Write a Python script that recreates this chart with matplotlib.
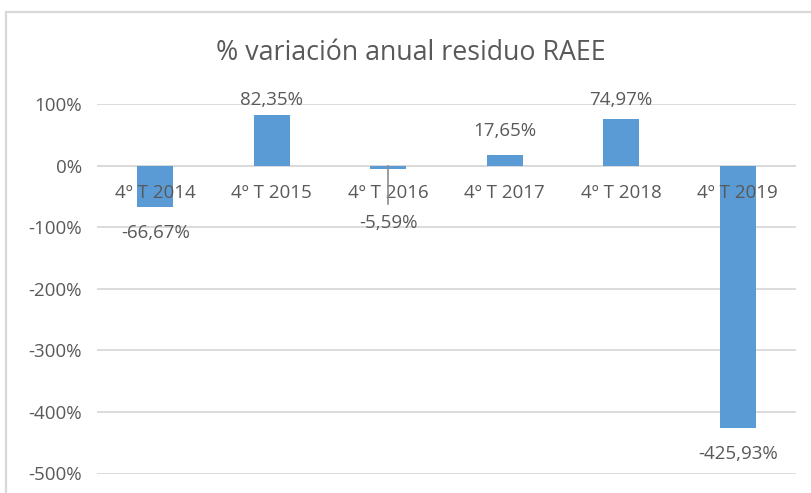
import matplotlib.pyplot as plt
from matplotlib.patches import Rectangle
from matplotlib.ticker import FuncFormatter

categories = ["4º T 2014", "4º T 2015", "4º T 2016", "4º T 2017", "4º T 2018", "4º T 2019"]
values = [-66.67, 82.35, -5.59, 17.65, 74.97, -425.93]
labels = ["-66,67%", "82,35%", "-5,59%", "17,65%", "74,97%", "-425,93%"]

plt.rcParams['font.family'] = ['Open Sans', 'DejaVu Sans']
text_col = '#595959'
grid_col = '#D9D9D9'
fs = 13.5

fig = plt.figure(figsize=(8.12, 4.93), dpi=100)
ax = fig.add_axes([97 / 812, 19.5 / 493, 699 / 812, 369.5 / 493])

x = list(range(len(categories)))
ax.bar(x, values, width=0.31, color='#5B9BD5', zorder=3)

ax.set_xlim(-0.5, len(categories) - 0.5)
ax.set_ylim(-500, 100)
ax.set_yticks(range(-500, 101, 100))
ax.yaxis.set_major_formatter(FuncFormatter(lambda v, p: f"{int(v)}%"))
ax.tick_params(axis='y', length=0, pad=11, labelsize=fs, labelcolor=text_col)
ax.set_xticks([])
ax.grid(axis='y', color=grid_col, linewidth=1.3, zorder=0)
for s in ax.spines.values():
    s.set_visible(False)
ax.axhline(0, color=grid_col, linewidth=1.3, zorder=2)

# category labels sit just under the zero line
for xi, c in zip(x, categories):
    ax.text(xi, -44, c, ha='center', va='center', fontsize=fs, color=text_col, zorder=4)

# data labels
for xi, v, lab in zip(x, values, labels):
    if v >= 0:
        y = min(v + 38, 107)
    else:
        y = min(v - 42, -93)
    ax.text(xi, y, lab, ha='center', va='center', fontsize=fs, color=text_col,
            zorder=4, clip_on=False)

# small vertical marker near 2016
ax.plot([2, 2], [0, -62], color='#8C8C8C', linewidth=1.2, zorder=5)

fig.text(411 / 812, 1 - 53 / 493, "% variación anual residuo RAEE", ha='center', va='center',
         fontsize=19.3, color=text_col)

fig.patches.append(Rectangle((5.5 / 812, -0.1), 1.2, 1.1 - 12 / 493, transform=fig.transFigure,
                             fill=False, edgecolor=grid_col, linewidth=1.6))

fig.savefig('out.png', dpi=100)
